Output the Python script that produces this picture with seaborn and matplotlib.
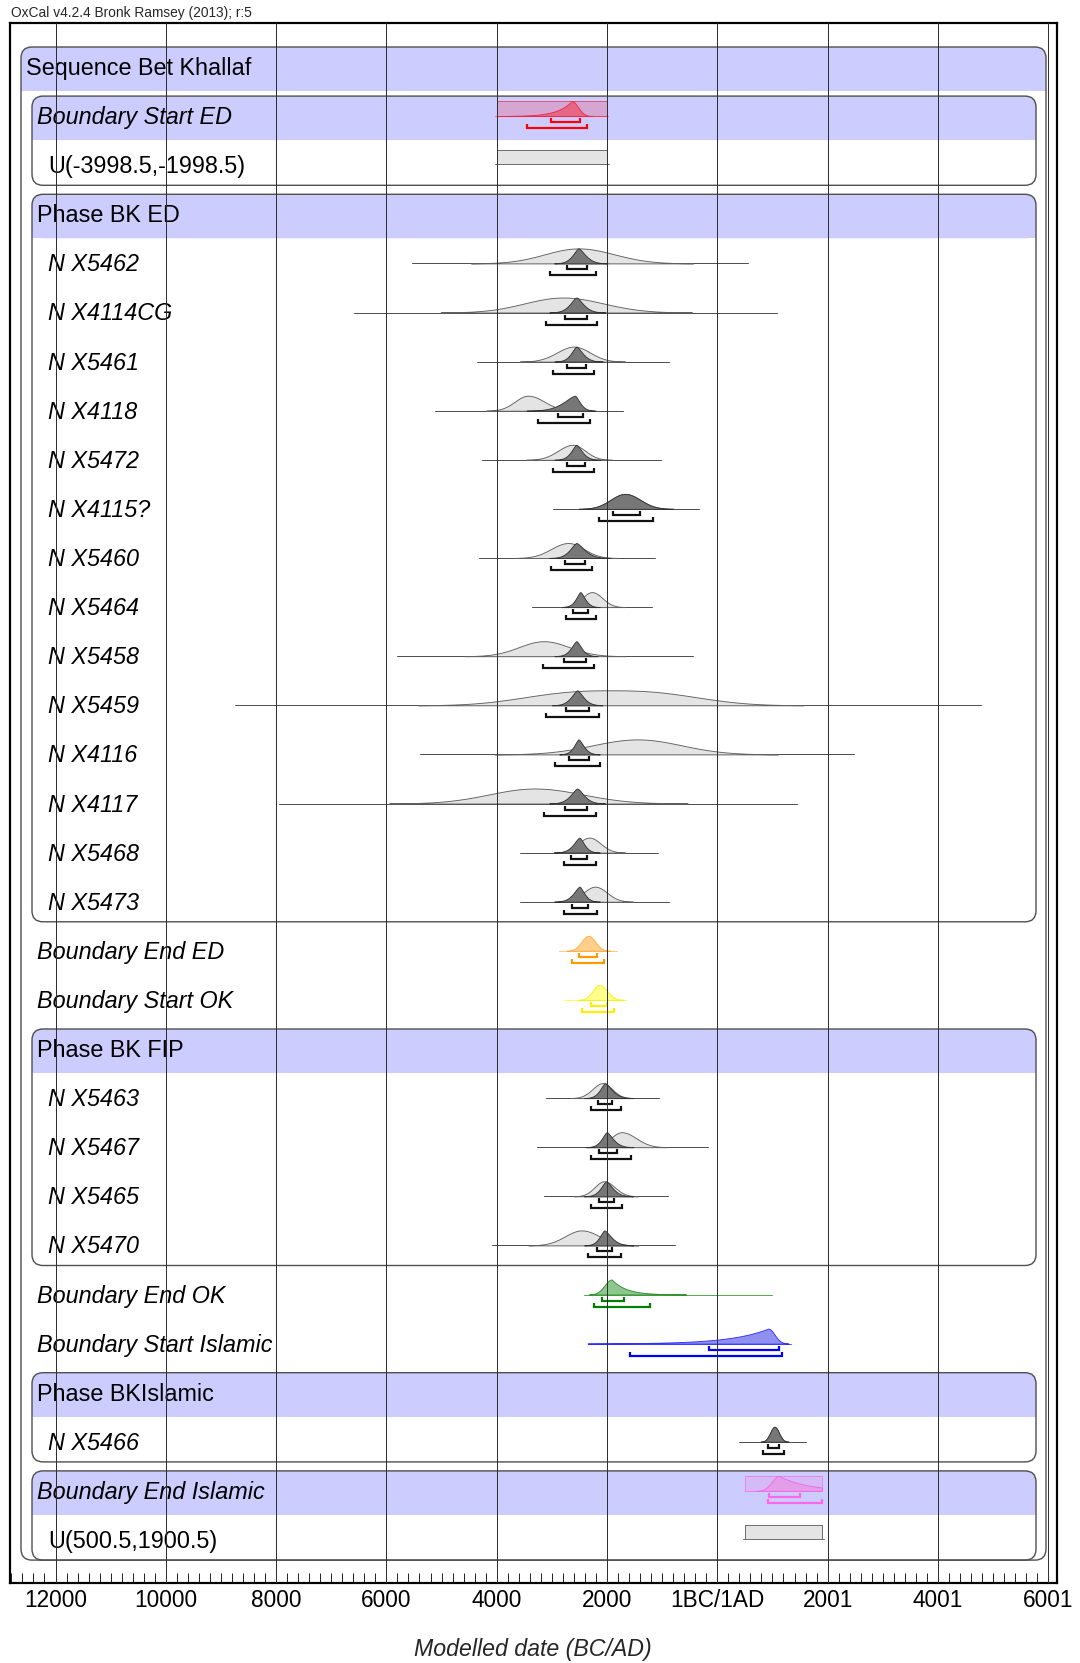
import numpy as np
import pandas as pd
import matplotlib
matplotlib.use("Agg")
import matplotlib.pyplot as plt
from matplotlib.patches import FancyBboxPatch, Rectangle
from matplotlib.ticker import MultipleLocator
import seaborn as sns

sns.set_style("white")
plt.rcParams['font.family'] = ['Liberation Sans', 'DejaVu Sans']
NARROW = ['Liberation Sans Narrow', 'Liberation Sans']

# ---------------------------------------------------------------- data
row_labels = ["Sequence Bet Khallaf", "Boundary Start ED", "U(-3998.5,-1998.5)", "Phase BK ED",
              "N X5462", "N X4114CG", "N X5461", "N X4118", "N X5472", "N X4115?", "N X5460",
              "N X5464", "N X5458", "N X5459", "N X4116", "N X4117", "N X5468", "N X5473",
              "Boundary End ED", "Boundary Start OK", "Phase BK FIP",
              "N X5463", "N X5467", "N X5465", "N X5470",
              "Boundary End OK", "Boundary Start Islamic", "Phase BKIslamic", "N X5466",
              "Boundary End Islamic", "U(500.5,1900.5)"]
row_indent = [0, 1, 2, 1] + [2] * 14 + [1, 1, 1] + [2] * 4 + [1, 1, 1, 2, 1, 2]

# nested boxes: (first row, last row, level)
boxes_first = [0, 1, 3, 20, 27, 29]
boxes_last = [30, 2, 17, 24, 28, 30]
boxes_level = [0, 1, 1, 1, 1, 1]

# single dates (likelihood = light, posterior = dark)
date_names = ["N X5462", "N X4114CG", "N X5461", "N X4118", "N X5472", "N X4115?", "N X5460",
              "N X5464", "N X5458", "N X5459", "N X4116", "N X4117", "N X5468", "N X5473",
              "N X5463", "N X5467", "N X5465", "N X5470", "N X5466"]
line_lo = [-5530, -6595, -4365, -5119, -4260, -2986, -4324, -3351, -5808, -8750, -5395, -7950,
           -3578, -3578, -3106, -3263, -3142, -4085, 385]
line_hi = [559, 1085, -878, -1713, -1024, -334, -1137, -1178, -432, 4788, 2471, 1450,
           -1081, -878, -1064, -169, -901, -762, 1615]
light_peak = [-2518, -2800, -2600, -3432, -2621, -1672, -2702, -2273, -3148, -1932, -1446, -3311,
              -2321, -2216, -2079, -1734, -2054, -2459, 1038]
light_wl = [1766, 2011, 889, 690, 771, 763, 892, 510, 1298, 3244, 2351, 2392, 584, 608, 531, 574, 496, 876, 230]
light_wr = [1883, 2125, 846, 851, 648, 794, 811, 544, 1338, 3244, 2312, 2514, 592, 624, 496, 755, 561, 936, 230]
light_p = [2, 2, 2, 2, 2, 2, 2, 2, 2, 2.6, 2, 2, 2, 2, 2, 2, 2, 2, 2]
dark_peak = [-2518, -2556, -2556, -2581, -2556, -1672, -2556, -2483, -2556, -2540, -2516, -2540,
             -2500, -2500, -2036, -2006, -2018, -2048, 1038]
dark_wl = [387, 430, 349, 770, 349, 763, 430, 300, 349, 406, 308, 446, 405, 405, 333, 333, 351, 321, 230]
dark_wr = [464, 462, 421, 325, 381, 794, 543, 308, 340, 405, 341, 446, 325, 325, 453, 423, 435, 465, 230]
dark_p = [1.5, 1.5, 1.5, 1.5, 1.5, 2, 1.5, 1.5, 1.5, 1.5, 1.5, 1.5, 1.5, 1.5, 1.5, 1.5, 1.5, 1.5, 2]
r68_lo = [-2727, -2759, -2727, -2889, -2727, -1891, -2759, -2613, -2784, -2743, -2686, -2767,
          -2646, -2638, -2163, -2151, -2151, -2187, 912]
r68_hi = [-2354, -2354, -2378, -2435, -2402, -1405, -2402, -2337, -2378, -2321, -2330, -2362,
          -2354, -2338, -1903, -1825, -1879, -1903, 1124]
r95_lo = [-3027, -3100, -2986, -3254, -2986, -2151, -3011, -2735, -3165, -3108, -2946, -3148,
          -2784, -2784, -2290, -2284, -2284, -2338, 834]
r95_hi = [-2191, -2176, -2240, -2313, -2240, -1162, -2273, -2191, -2240, -2151, -2135, -2200,
          -2200, -2176, -1752, -1571, -1722, -1752, 1214]

# boundaries
bnd_names = ["Boundary Start ED", "Boundary End ED", "Boundary Start OK", "Boundary End OK",
             "Boundary Start Islamic", "Boundary End Islamic"]
bnd_line_lo = [-4030, -2864, -2774, -2424, -2352, 489]
bnd_line_hi = [-1976, -1825, -1656, 995, 1329, 1903]
bnd_peak = [-2641, -2338, -2139, -1915, 922, 1118]
bnd_wl = [1117, 363, 351, 376, 2940, 375]
bnd_wr = [333, 362, 405, 1109, 334, 2230]
bnd_pl = [1, 2, 2, 2, 1, 2]
bnd_pr = [2, 2, 2, 1, 2, 1]
bnd_68_lo = [-3021, -2502, -2290, -2097, -151, 943]
bnd_68_hi = [-2490, -2187, -2006, -1697, 1116, 1498]
bnd_95_lo = [-3450, -2628, -2447, -2243, -1582, 924]
bnd_95_hi = [-2369, -2048, -1867, -1218, 1177, 1891]

# uniform priors U(a,b)
prior_names = ["U(-3998.5,-1998.5)", "U(500.5,1900.5)"]
prior_lo = [-3998.5, 500.5]
prior_hi = [-1998.5, 1900.5]

tick_values = [-12000, -10000, -8000, -6000, -4000, -2000, 0, 2001, 4001, 6001]
tick_labels = ["12000", "10000", "8000", "6000", "4000", "2000", "1BC/1AD", "2001", "4001", "6001"]

# ---------------------------------------------------------------- styles
bnd_fill = ["#e8607c", "#ffca80", "#ffff80", "#82c082", "#8484f0", "#e69ae6"]
bnd_edge = ["#ee2244", "#ffaa33", "#f4f400", "#228822", "#2222ff", "#ee66ee"]
bnd_brk = ["#ff0000", "#ff9900", "#ffee00", "#008000", "#0000ff", "#ff66ee"]
bnd_base = ["#ff6666", "#ffcc88", "#ffff55", "#55aa55", "#5555ff", "#ff99ff"]

W, H = 1080, 1663
ROW0, PITCH = 47.0, 49.1
AX_L, AX_R, AX_T, AX_B = 10, 1057, 23, 1583
X0_PX, PX_PER_YEAR = 717.3, 0.05515
BASE = 20 / PITCH
HGT = 15 / PITCH
Y68, Y95, TK = 26 / PITCH, 32 / PITCH, 4 / PITCH
PT = 72 / 100.0  # points per pixel

fig = plt.figure(figsize=(W / 100, H / 100), dpi=100)
bg = fig.add_axes([0, 0, 1, 1], zorder=0)
bg.set_xlim(0, W)
bg.set_ylim(H, 0)
bg.axis('off')

ax = fig.add_axes([AX_L / W, 1 - AX_B / H, (AX_R - AX_L) / W, (AX_B - AX_T) / H], zorder=1)
ax.patch.set_alpha(0)

# ---------------------------------------------------------------- boxes & labels
box_x = {0: (21, 1046), 1: (32, 1036)}
LAV = "#ccccff"
for f, l, lev in zip(boxes_first, boxes_last, boxes_level):
    x0, x1 = box_x[lev]
    top = ROW0 + PITCH * f
    bot = ROW0 + PITCH * (l + 1) - 9
    bg.add_patch(FancyBboxPatch((x0, top), x1 - x0, 44, boxstyle="round,pad=0,rounding_size=11",
                                fc=LAV, ec='none', zorder=1))
    bg.add_patch(Rectangle((x0, top + 20), x1 - x0, 24, fc=LAV, ec='none', zorder=1))
    bg.add_patch(FancyBboxPatch((x0, top), x1 - x0, bot - top, boxstyle="round,pad=0,rounding_size=11",
                                fill=False, ec='#505050', lw=1.4 * PT, zorder=2))

label_x = {0: 26, 1: 37, 2: 48}
for i, (lab, ind) in enumerate(zip(row_labels, row_indent)):
    italic = lab.startswith("Boundary") or lab.startswith("N ")
    bg.text(label_x[ind], ROW0 + PITCH * i + 28, lab, fontsize=16.8, va='baseline', ha='left',
            style='italic' if italic else 'normal', color='black', zorder=3)

# ---------------------------------------------------------------- shapes
def shape(x, peak, wl, wr, pl, pr):
    d = x - peak
    w = np.where(d < 0, wl, wr)
    p = np.where(d < 0, pl, pr)
    k = 8.4 ** (1.0 / p)
    return np.exp(-0.5 * (np.abs(d) * k / w) ** p)

def bracket(lo, hi, y, color):
    ax.plot([lo, lo, hi, hi], [y - TK, y, y, y - TK], color=color, lw=2.2 * PT,
            solid_capstyle='butt', solid_joinstyle='miter', zorder=6)

def baseline(lo, hi, y, color):
    sns.lineplot(x=np.array([lo, hi], dtype=float), y=np.array([y, y], dtype=float),
                 estimator=None, color=color, linewidth=1.0 * PT, ax=ax, zorder=3)

row_of = {lab: i for i, lab in enumerate(row_labels)}

# single dates
for i, n in enumerate(date_names):
    r = row_of[n]
    b = r + BASE
    baseline(line_lo[i], line_hi[i], b, "#505050")
    xs = np.linspace(line_lo[i], line_hi[i], 1500)
    fl = shape(xs, light_peak[i], light_wl[i], light_wr[i], light_p[i], light_p[i])
    fd = shape(xs, dark_peak[i], dark_wl[i], dark_wr[i], dark_p[i], dark_p[i])
    ml = fl > 0.006
    md = fd > 0.006
    ax.fill_between(xs[ml], b, b - HGT * fl[ml], fc="#e4e4e4", ec="#606060", lw=0.9 * PT, zorder=4)
    ax.fill_between(xs[md], b, b - HGT * fd[md], fc="#777777", ec="#333333", lw=0.9 * PT, zorder=5)
    bracket(r68_lo[i], r68_hi[i], r + Y68, "#111111")
    bracket(r95_lo[i], r95_hi[i], r + Y95, "#111111")

# boundaries
box_bnd = {"Boundary Start ED": (prior_lo[0], prior_hi[0]), "Boundary End Islamic": (prior_lo[1], prior_hi[1])}
for i, n in enumerate(bnd_names):
    r = row_of[n]
    b = r + BASE
    baseline(bnd_line_lo[i], bnd_line_hi[i], b, bnd_base[i])
    xs = np.linspace(bnd_line_lo[i], bnd_line_hi[i], 1500)
    f = shape(xs, bnd_peak[i], bnd_wl[i], bnd_wr[i], bnd_pl[i], bnd_pr[i])
    m = f > 0.006
    if n in box_bnd:
        lo, hi = box_bnd[n]
        ax.add_patch(Rectangle((lo, r + 5 / PITCH), hi - lo, HGT, fc=bnd_fill[i], alpha=0.35,
                               ec='none', zorder=3))
        ax.add_patch(Rectangle((lo, r + 5 / PITCH), hi - lo, HGT, fill=False,
                               ec=bnd_edge[i], alpha=0.6, lw=1.0 * PT, zorder=4))
        m &= (xs >= lo) & (xs <= hi)
    ax.fill_between(xs[m], b, b - HGT * f[m], fc=bnd_fill[i], ec=bnd_edge[i], lw=0.9 * PT,
                    alpha=0.9, zorder=5)
    bracket(bnd_68_lo[i], bnd_68_hi[i], r + Y68, bnd_brk[i])
    bracket(bnd_95_lo[i], bnd_95_hi[i], r + Y95, bnd_brk[i])

# uniform priors
for n, lo, hi in zip(prior_names, prior_lo, prior_hi):
    r = row_of[n]
    baseline(lo - 40, hi + 40, r + 19 / PITCH, "#707070")
    ax.add_patch(Rectangle((lo, r + 5 / PITCH), hi - lo, 14 / PITCH, fc="#e4e4e4", ec="#707070",
                           lw=1.0 * PT, zorder=4))

# ---------------------------------------------------------------- axes
for t in tick_values:
    ax.axvline(t, color="#303030", lw=1.0 * PT, zorder=20)

ax.set_xlim((AX_L - X0_PX) / PX_PER_YEAR, (AX_R - X0_PX) / PX_PER_YEAR)
ax.set_ylim((AX_B - ROW0) / PITCH, (AX_T - ROW0) / PITCH)
ax.set_xticks(tick_values)
ax.set_xticklabels(tick_labels, family=NARROW, fontsize=16.3)
ax.xaxis.set_minor_locator(MultipleLocator(200))
ax.tick_params(axis='x', which='major', direction='in', length=9, width=1.0 * PT, pad=4,
               bottom=True, colors='black')
ax.tick_params(axis='x', which='minor', direction='in', length=7, width=1.0 * PT, bottom=True)
ax.set_yticks([])
ax.set_xlabel("")
ax.set_ylabel("")
for s in ax.spines.values():
    s.set_visible(True)
    s.set_color('black')
    s.set_linewidth(2.2 * PT)

fig.text(11 / W, 1 - 17 / H, "OxCal v4.2.4 Bronk Ramsey (2013); r:5", family=NARROW,
         fontsize=9.9, va='baseline', ha='left')
fig.text(533 / W, 1 - 1656 / H, "Modelled date (BC/AD)", family=NARROW, style='italic',
         fontsize=16.7, va='baseline', ha='center')

fig.savefig("out.png", dpi=100)
